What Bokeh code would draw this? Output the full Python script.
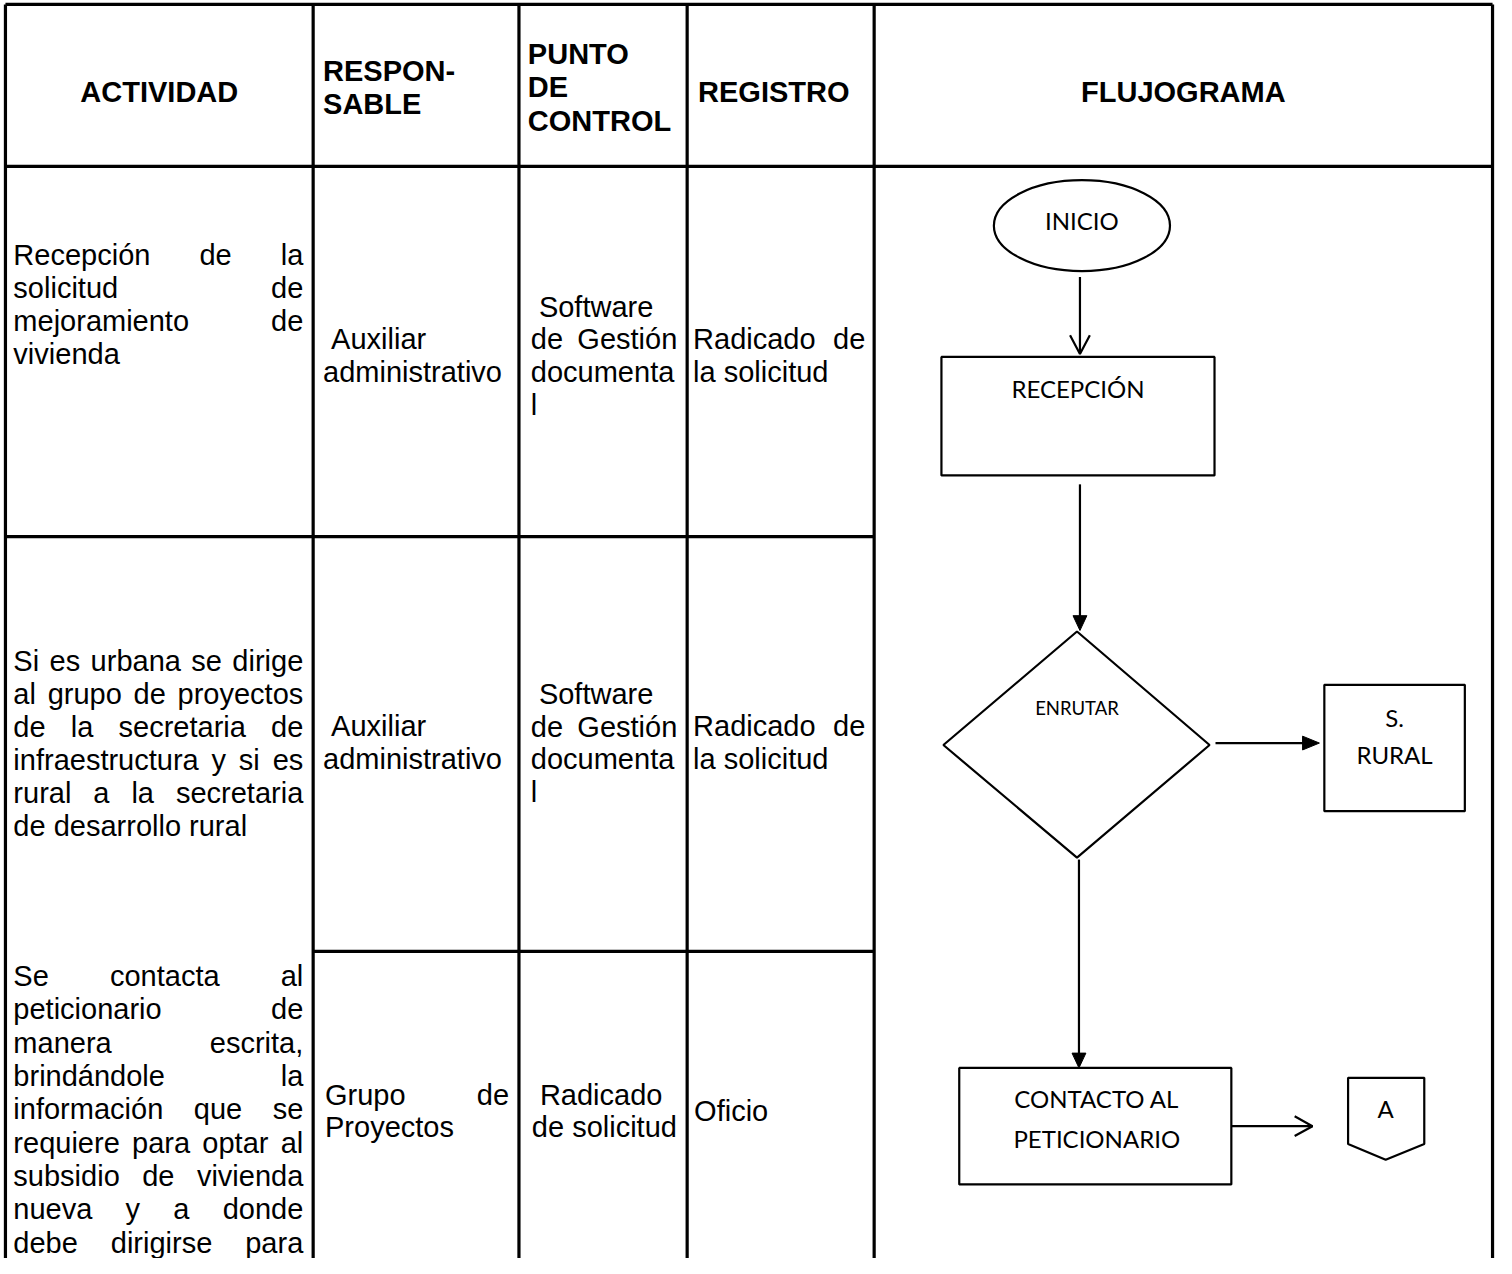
from bokeh.plotting import figure
from bokeh.models import Range1d, ColumnDataSource
from bokeh.core.properties import value
from bokeh.embed import file_html
from bokeh.resources import INLINE

# ---------------- content ----------------
header_actividad = ["ACTIVIDAD"]
header_responsable = ["RESPON-", "SABLE"]
header_punto = ["PUNTO", "DE", "CONTROL"]
header_registro = ["REGISTRO"]
header_flujo = ["FLUJOGRAMA"]

actividad_1 = ["Recepción de la", "solicitud de", "mejoramiento de", "vivienda"]
actividad_2 = ["Si es urbana se dirige", "al grupo de proyectos", "de la secretaria de",
               "infraestructura y si es", "rural a la secretaria", "de desarrollo rural"]
actividad_3 = ["Se contacta al", "peticionario de", "manera escrita,", "brindándole la",
               "información que se", "requiere para optar al", "subsidio de vivienda",
               "nueva y a donde", "debe dirigirse para"]

responsable_1 = [" Auxiliar", "administrativo"]
responsable_2 = [" Auxiliar", "administrativo"]
responsable_3 = ["Grupo de", "Proyectos"]

punto_1 = [" Software", "de Gestión", "documenta", "l"]
punto_2 = [" Software", "de Gestión", "documenta", "l"]
punto_3 = [" Radicado", "de solicitud"]

registro_1 = ["Radicado de", "la solicitud"]
registro_2 = ["Radicado de", "la solicitud"]
registro_3 = ["Oficio"]

node_inicio = ["INICIO"]
node_recepcion = ["RECEPCIÓN"]
node_enrutar = ["ENRUTAR"]
node_rural = ["S.", "RURAL"]
node_contacto = ["CONTACTO AL", "PETICIONARIO"]
node_connector = ["A"]

# ---------------- layout helpers ----------------
W_PX, H_PX = 1496, 1258
SX = W_PX / 1512.0  # px per data unit

HELV = {' ': 278, ',': 278, '.': 278, '-': 333,
        'a': 556, 'b': 556, 'c': 500, 'd': 556, 'e': 556, 'f': 278, 'g': 556, 'h': 556,
        'i': 222, 'j': 222, 'k': 500, 'l': 222, 'm': 833, 'n': 556, 'o': 556, 'p': 556,
        'q': 556, 'r': 333, 's': 500, 't': 278, 'u': 556, 'v': 500, 'w': 722, 'x': 500,
        'y': 500, 'z': 500, 'á': 556, 'é': 556, 'í': 278, 'ó': 556, 'ú': 556, 'ñ': 556,
        'A': 667, 'B': 667, 'C': 722, 'D': 722, 'E': 667, 'F': 611, 'G': 778, 'H': 722,
        'I': 278, 'J': 500, 'K': 667, 'L': 556, 'M': 833, 'N': 722, 'O': 778, 'P': 667,
        'Q': 778, 'R': 722, 'S': 667, 'T': 611, 'U': 722, 'V': 667, 'W': 944, 'X': 667,
        'Y': 667, 'Z': 611}

FS = 29  # body font size px


def tw(s, size=FS):
    return sum(HELV.get(c, 556) for c in s) / 1000.0 * size / SX


body = {"x": [], "y": [], "t": []}


def put_line(line, left, right, y, justify):
    lead = len(line) - len(line.lstrip(" "))
    words = line.strip().split(" ")
    left = left + lead * tw(" ")
    if justify and len(words) > 1:
        widths = [tw(w) for w in words]
        gap = (right - left - sum(widths)) / (len(words) - 1)
        x = left
        for w, wd in zip(words, widths):
            body["x"].append(x); body["y"].append(y); body["t"].append(w)
            x += wd + gap
    else:
        body["x"].append(left); body["y"].append(y); body["t"].append(line.strip())


def put_block(lines, left, right, y0, step, justify_flags):
    for i, (ln, j) in enumerate(zip(lines, justify_flags)):
        put_line(ln, left, right, y0 + i * step, j)


# ---------------- figure ----------------
p = figure(width=W_PX, height=H_PX, x_range=Range1d(0, 1512), y_range=Range1d(1274, 0),
           output_backend="svg", toolbar_location=None, x_axis_type=None, y_axis_type=None,
           min_border=0, outline_line_color=None, background_fill_color="white",
           border_fill_color="white")
p.grid.visible = False

# table lines
XL, X1, X2, X3, X4, XR = 5, 316, 524, 694, 883, 1508
YT, YH, Y1, Y2, YB = 4, 168, 543, 963, 1274
hx0 = [XL, XL, XL, X1]
hx1 = [XR, XR, X4, X4]
hy = [YT, YH, Y1, Y2]
p.segment(x0=hx0, y0=hy, x1=hx1, y1=hy, line_color="black", line_width=3.2)
vx = [XL, X1, X2, X3, X4, XR]
p.segment(x0=vx, y0=[YT] * 6, x1=vx, y1=[YB] * 6, line_color="black", line_width=3.2)

# header
hdr = {"x": [], "y": [], "t": [], "a": []}


def hdr_add(lines, x, y0, step, align):
    for i, ln in enumerate(lines):
        hdr["x"].append(x); hdr["y"].append(y0 + i * step); hdr["t"].append(ln); hdr["a"].append(align)


hdr_add(header_actividad, (XL + X1) / 2, 93, 34, "center")
hdr_add(header_responsable, 326, 71, 34, "left")
hdr_add(header_punto, 533, 54, 34, "left")
hdr_add(header_registro, 705, 93, 34, "left")
hdr_add(header_flujo, (X4 + XR) / 2, 93, 34, "center")
p.text(x="x", y="y", text="t", text_align="a", source=ColumnDataSource(hdr),
       text_font=value("Liberation Sans"), text_font_style="bold", text_font_size="29px",
       text_baseline="middle", text_color="black")

# body text
LS = 33.3
put_block(actividad_1, 13, 306, 258, LS, [True, True, True, False])
put_block(actividad_2, 13, 306, 669, LS, [True] * 5 + [False])
put_block(actividad_3, 13, 306, 988, 33.75, [True] * 9)

put_block(responsable_1, 326, 514, 343, LS, [False, False])
put_block(responsable_2, 326, 514, 735, LS, [False, False])
put_block(responsable_3, 328, 514, 1108, LS, [True, False])

put_block(punto_1, 536, 684, 310, LS, [False, True, False, False])
put_block(punto_2, 536, 684, 702, LS, [False, True, False, False])
put_block(punto_3, 537, 684, 1108, LS, [False, False])

put_block(registro_1, 700, 874, 343, LS, [True, False])
put_block(registro_2, 700, 874, 735, LS, [True, False])
put_block(registro_3, 701, 874, 1125, LS, [False])

p.text(x="x", y="y", text="t", source=ColumnDataSource(body),
       text_font=value("Liberation Sans"), text_font_size="29px",
       text_align="left", text_baseline="middle", text_color="black")

# ---------------- flowchart ----------------
LW = 2.2
# INICIO ellipse
p.ellipse(x=[1093], y=[228], width=[178], height=[92], fill_color="white",
          line_color="black", line_width=LW)
# arrow 1 (open head)
p.line(x=[1091, 1091], y=[280, 357], line_color="black", line_width=LW)
p.line(x=[1081, 1091, 1101], y=[339, 358, 339], line_color="black", line_width=LW)
# RECEPCION box
p.quad(left=[951], right=[1227], top=[361], bottom=[481], fill_color="white",
       line_color="black", line_width=LW)
# arrow 2 (filled)
p.line(x=[1091, 1091], y=[490, 624], line_color="black", line_width=LW)
p.patch(x=[1084, 1098, 1091], y=[623, 623, 638], fill_color="black", line_color="black", line_width=1)
# diamond
p.patch(x=[1088, 1222, 1088, 953], y=[639, 754, 868, 754], fill_color="white",
        line_color="black", line_width=LW)
# arrow 3 to S. RURAL
p.line(x=[1228, 1318], y=[752, 752], line_color="black", line_width=LW)
p.patch(x=[1316, 1316, 1333], y=[745, 759, 752], fill_color="black", line_color="black", line_width=1)
# S. RURAL box
p.quad(left=[1338], right=[1480], top=[693], bottom=[821], fill_color="white",
       line_color="black", line_width=LW)
# arrow from diamond down
p.line(x=[1090, 1090], y=[870, 1068], line_color="black", line_width=LW)
p.patch(x=[1083, 1097, 1090], y=[1066, 1066, 1081], fill_color="black", line_color="black", line_width=1)
# CONTACTO box
p.quad(left=[969], right=[1244], top=[1081], bottom=[1199], fill_color="white",
       line_color="black", line_width=LW)
# arrow 4 (open head)
p.line(x=[1244, 1326], y=[1140, 1140], line_color="black", line_width=LW)
p.line(x=[1308, 1326, 1308], y=[1130, 1140, 1150], line_color="black", line_width=LW)
# off-page connector A
p.patch(x=[1362, 1439, 1439, 1400, 1362], y=[1091, 1091, 1158, 1174, 1158],
        fill_color="white", line_color="black", line_width=LW)

fl = {"x": [], "y": [], "t": [], "s": []}


def fl_add(lines, x, ys, size):
    for ln, yy in zip(lines, ys):
        fl["x"].append(x); fl["y"].append(yy); fl["t"].append(ln); fl["s"].append(size)


fl_add(node_inicio, 1093, [223], "24px")
fl_add(node_recepcion, 1089, [393], "24px")
fl_add(node_enrutar, 1088, [716], "18.5px")
fl_add(node_rural, 1409, [726, 764], "24px")
fl_add(node_contacto, 1108, [1112, 1152], "24px")
fl_add(node_connector, 1400, [1122], "24px")
p.text(x="x", y="y", text="t", text_font_size="s", source=ColumnDataSource(fl),
       text_font=value("Lato"), text_align="center", text_baseline="middle",
       text_color="black")

open("out.html", "w").write(file_html(p, INLINE))
